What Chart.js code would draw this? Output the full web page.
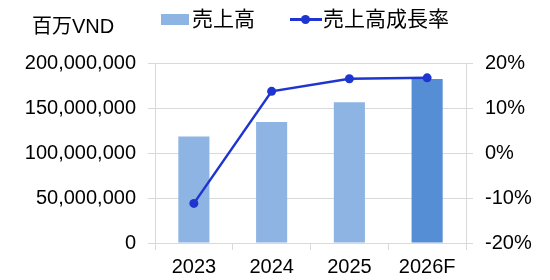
<!DOCTYPE html>
<html>
<head>
<meta charset="utf-8">
<script src="https://cdn.jsdelivr.net/npm/chart.js@4/dist/chart.umd.min.js"></script>
<style>
  html, body { margin: 0; padding: 0; background: #fff; }
  #wrap { position: relative; width: 550px; height: 280px; }
  #unit {
    position: absolute; left: 32px; top: 14px;
    font: 20px "Liberation Sans", "Noto Sans CJK JP", sans-serif;
    line-height: 24px; color: #000;
  }
  #legend {
    position: absolute; left: 161px; top: 7px; height: 24px;
    display: flex; align-items: center;
    font: 21px "Liberation Sans", "Noto Sans CJK JP", sans-serif;
    line-height: 24px; color: #000;
  }
  .item { display: flex; align-items: center; margin-right: 35px; }
  .box { width: 28px; height: 11px; margin-right: 3px; }
  .line { position: relative; width: 32px; height: 3px; margin-right: 1px; }
  .line i { position: absolute; left: 11px; top: -3px; width: 9px; height: 9px; border-radius: 50%; }
</style>
</head>
<body>
<div id="wrap">
  <canvas id="chart" width="550" height="280"></canvas>
  <div id="unit">百万VND</div>
  <div id="legend"></div>
</div>
<script>
// data
const years = ['2023', '2024', '2025', '2026F'];
const revenue = [118200000, 134500000, 156400000, 182200000];
const growth = [-11.2, 13.7, 16.5, 16.7];
const revenueLabel = '売上高';
const growthLabel = '売上高成長率';

const barColor = '#8EB4E3';
const forecastColor = '#558ED5';
const lineColor = '#1F35D0';
const gridColor = '#D9D9D9';
const font = { family: '"Liberation Sans", "Noto Sans CJK JP", sans-serif', size: 20 };

const chart = new Chart(document.getElementById('chart'), {
  type: 'bar',
  data: {
    labels: years,
    datasets: [
      {
        type: 'bar',
        label: revenueLabel,
        data: revenue,
        yAxisID: 'y',
        order: 1,
        backgroundColor: years.map((y) => (y.endsWith('F') ? forecastColor : barColor)),
        barPercentage: 0.4,
        categoryPercentage: 1,
      },
      {
        type: 'line',
        label: growthLabel,
        data: growth,
        yAxisID: 'y1',
        order: 0,
        borderColor: lineColor,
        backgroundColor: lineColor,
        borderWidth: 2.5,
        pointRadius: 4.5,
        pointBackgroundColor: lineColor,
        pointBorderWidth: 0,
        tension: 0,
      },
    ],
  },
  options: {
    responsive: false,
    animation: false,
    layout: { padding: { top: 63 } },
    plugins: {
      legend: { display: false },
      tooltip: { enabled: false },
    },
    scales: {
      x: {
        afterFit: (s) => { s.height = 37; },
        ticks: { color: '#000', font, padding: 5 },
        grid: { drawOnChartArea: false, drawTicks: true, tickLength: 7, color: gridColor },
        border: { display: true, color: gridColor },
      },
      y: {
        position: 'left',
        min: 0,
        max: 200000000,
        afterFit: (s) => { s.width = 155; },
        ticks: {
          stepSize: 50000000,
          color: '#000',
          font,
          padding: 12,
          callback: (v) => v.toLocaleString('en-US'),
        },
        grid: { color: gridColor, tickLength: 7 },
        border: { display: true, color: gridColor },
      },
      y1: {
        position: 'right',
        min: -20,
        max: 20,
        afterFit: (s) => { s.width = 84; },
        ticks: {
          stepSize: 10,
          color: '#000',
          font,
          padding: 12,
          callback: (v) => v + '%',
        },
        grid: { drawOnChartArea: false, tickLength: 7, color: gridColor },
        border: { display: true, color: gridColor },
      },
    },
  },
});

// HTML legend built from the datasets
const legend = document.getElementById('legend');
[chart.data.datasets[0], chart.data.datasets[1]].forEach((ds) => {
  const item = document.createElement('div');
  item.className = 'item';
  const swatch = document.createElement('span');
  if (ds.type === 'line') {
    swatch.className = 'line';
    swatch.style.background = ds.borderColor;
    const dot = document.createElement('i');
    dot.style.background = ds.borderColor;
    swatch.appendChild(dot);
  } else {
    swatch.className = 'box';
    swatch.style.background = barColor;
  }
  const text = document.createElement('span');
  text.textContent = ds.label;
  item.appendChild(swatch);
  item.appendChild(text);
  legend.appendChild(item);
});
</script>
</body>
</html>
